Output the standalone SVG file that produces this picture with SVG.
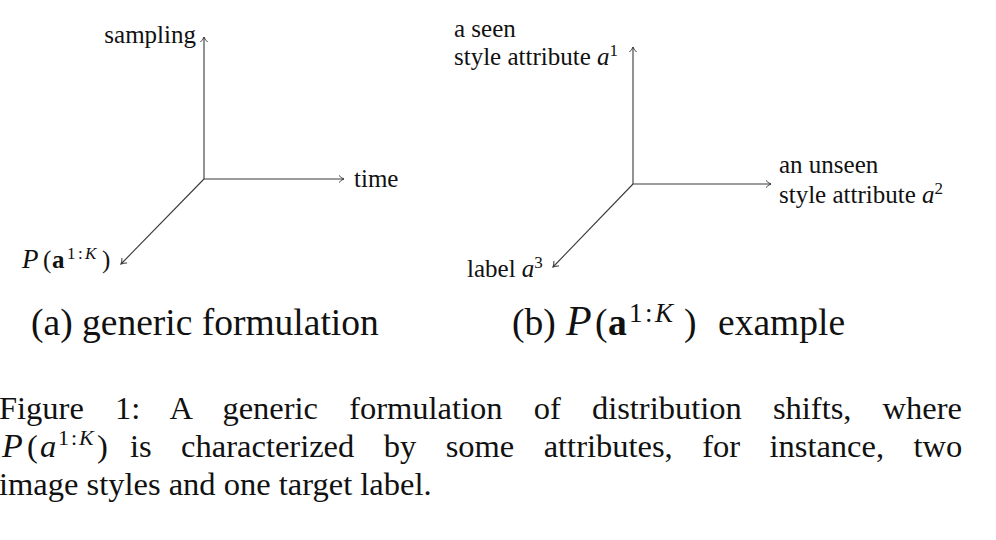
<svg xmlns="http://www.w3.org/2000/svg" width="996" height="540" viewBox="0 0 996 540">
<style>
text{font-family:"Liberation Serif","Times New Roman",serif;fill:#111}
.lbl{font-size:25px}
.sub{font-size:37.5px}
.cap{font-size:32.5px}
.ax{stroke:#3a3a3a;stroke-width:1.1;fill:none;marker-end:url(#to)}
.it{font-style:italic}
.bf{font-weight:bold}
</style>
<defs>
<marker id="to" markerUnits="userSpaceOnUse" markerWidth="12" markerHeight="12" viewBox="-7 -6 8 12" refX="0" refY="0" orient="auto">
<path d="M-5,-3.6 C-3.2,-1.6 -1.2,-0.5 0,0 C-1.2,0.5 -3.2,1.6 -5,3.6" fill="none" stroke="#3a3a3a" stroke-width="1"/>
</marker>
</defs>
<rect width="996" height="540" fill="#fff"/>
<g id="connectors">
<path class="ax" d="M204,179 V37"/>
<path class="ax" d="M204,179 H344"/>
<path class="ax" d="M204,179 L121,264"/>
<path class="ax" d="M633,184 V47"/>
<path class="ax" d="M633,184 H771"/>
<path class="ax" d="M633,184 L553,267"/>
</g>
<g id="node-sampling"><text class="lbl" x="196" y="43" text-anchor="end">sampling</text></g>
<g id="node-time"><text class="lbl" x="354" y="187">time</text></g>
<g id="node-P"><text class="lbl" y="268"><tspan class="it" x="22" font-size="27">P</tspan><tspan x="43">(</tspan><tspan class="bf" x="52">a</tspan><tspan font-size="17" x="67" dy="-9">1</tspan><tspan font-size="17" x="78">:</tspan><tspan font-size="17" class="it" x="85">K</tspan><tspan x="102" dy="9">)</tspan></text></g>
<g id="node-a1"><text class="lbl" x="454" y="37">a seen</text><text class="lbl" x="454" y="65">style attribute <tspan class="it">a</tspan><tspan dy="-9" font-size="17">1</tspan></text></g>
<g id="node-a2"><text class="lbl" x="779" y="173">an unseen</text><text class="lbl" x="779" y="203">style attribute <tspan class="it">a</tspan><tspan dy="-9" font-size="17">2</tspan></text></g>
<g id="node-a3"><text class="lbl" x="467" y="277">label <tspan class="it">a</tspan><tspan dy="-9" font-size="17">3</tspan></text></g>
<g id="subcaption-a"><text class="sub" x="31" y="335">(a) generic formulation</text></g>
<g id="subcaption-b"><text class="sub" y="335"><tspan x="512">(b)</tspan><tspan class="it" x="566" font-size="42">P</tspan><tspan x="595">(</tspan><tspan class="bf" x="608">a</tspan><tspan font-size="27" x="629" dy="-13">1</tspan><tspan font-size="27" x="645">:</tspan><tspan font-size="27" class="it" x="655">K</tspan><tspan x="684" dy="13">)</tspan><tspan x="718">example</tspan></text></g>
<g id="caption">
<text class="cap" x="-1" y="419" word-spacing="23">Figure 1:  A generic formulation of distribution shifts, where</text>
<text class="cap" y="457"><tspan class="it" x="2" font-size="34">P</tspan><tspan x="27">(</tspan><tspan class="it" x="40">a</tspan><tspan font-size="22" x="58" dy="-12">1</tspan><tspan font-size="22" x="71">:</tspan><tspan font-size="22" class="it" x="79">K</tspan><tspan x="97" dy="12">)</tspan><tspan x="130" word-spacing="21.3">is characterized by some attributes, for instance, two</tspan></text>
<text class="cap" x="-1" y="495">image styles and one target label.</text>
</g>
</svg>
